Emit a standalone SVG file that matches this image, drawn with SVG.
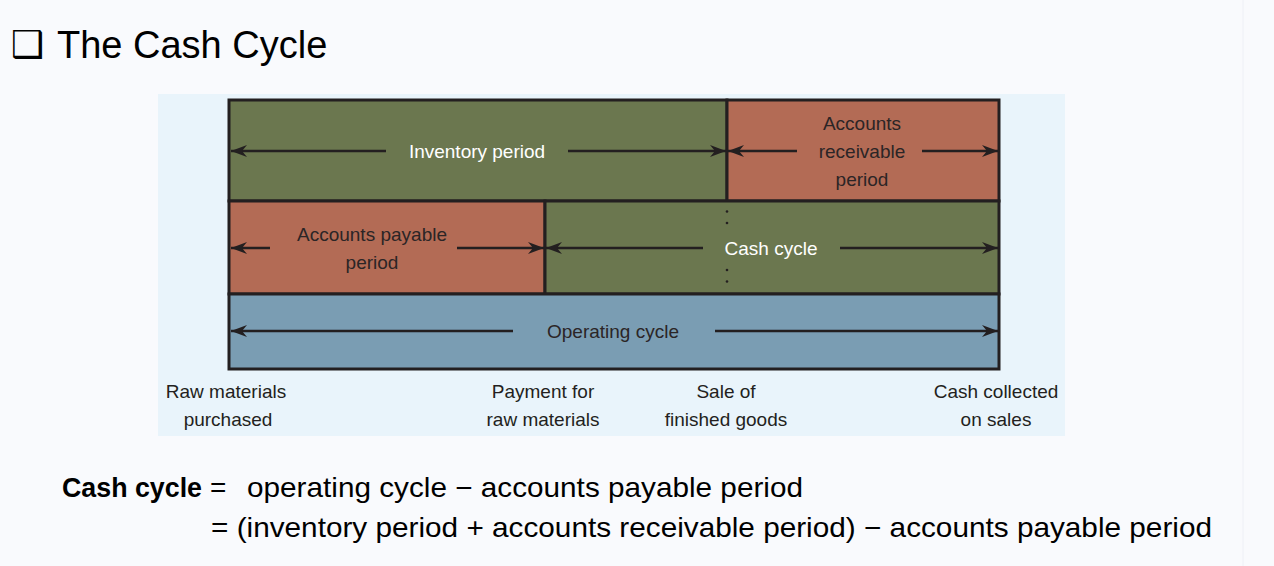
<svg xmlns="http://www.w3.org/2000/svg" width="1274" height="566" viewBox="0 0 1274 566">
<style>
.box{stroke:#231f20;stroke-width:3}
.g{fill:#6b774f}
.r{fill:#b36b55}
.b{fill:#7a9db3}
.arr{stroke:#231f20;stroke-width:2.5;fill:none;marker-end:url(#ah)}
.lbl{font-family:"Liberation Sans",Arial,sans-serif;font-size:19px;text-anchor:middle}
.w{fill:#ffffff}
.d{fill:#2b2526}
.bot{font-family:"Liberation Sans",Arial,sans-serif;font-size:19px;text-anchor:middle;fill:#231f20}
.f{font-family:"Liberation Sans",Arial,sans-serif;font-size:28px;fill:#000}
</style>
<defs>
<marker id="ah" markerUnits="userSpaceOnUse" markerWidth="18" markerHeight="14" viewBox="0 -7 18 14" refX="16" refY="0" orient="auto">
<path d="M0,-6 L16,0 L0,6 L5,0 Z" fill="#231f20"/>
</marker>
</defs>
<rect width="1274" height="566" fill="#f9fafd"/>
<line x1="1243" y1="0" x2="1243" y2="566" stroke="#eef0f6" stroke-width="1"/>
<g id="title">
<text x="11" y="57" font-family="DejaVu Sans,sans-serif" font-size="37" font-weight="bold" fill="#000">❑</text>
<text x="57" y="58" font-family="Liberation Sans,Arial,sans-serif" font-size="38" fill="#000">The Cash Cycle</text>
</g>
<rect id="panel" x="158" y="94" width="907" height="342" fill="#e9f4fb"/>
<g id="inventory">
<rect class="box g" x="229" y="100" width="498" height="101"/>
<text class="lbl w" x="477" y="157.5">Inventory period</text>
</g>
<g id="receivable">
<rect class="box r" x="727" y="100" width="272" height="101"/>
<text class="lbl d" x="862" y="130">Accounts</text>
<text class="lbl d" x="862" y="158">receivable</text>
<text class="lbl d" x="862" y="186">period</text>
</g>
<g id="payable">
<rect class="box r" x="229" y="201" width="316" height="93"/>
<text class="lbl d" x="372" y="241">Accounts payable</text>
<text class="lbl d" x="372" y="269">period</text>
</g>
<g id="cashcycle">
<rect class="box g" x="545" y="201" width="454" height="93"/>
<text class="lbl w" x="771" y="254.5">Cash cycle</text>
<g fill="#231f20">
<circle cx="727" cy="211.5" r="1.3"/>
<circle cx="727" cy="223" r="1.3"/>
<circle cx="727" cy="270" r="1.3"/>
<circle cx="727" cy="281.5" r="1.3"/>
</g>
</g>
<g id="operating">
<rect class="box b" x="229" y="294" width="770" height="75"/>
<text class="lbl d" x="613" y="337.5">Operating cycle</text>
</g>
<g id="connectors">
<line class="arr" x1="386" y1="151" x2="231" y2="151"/>
<line class="arr" x1="568" y1="151" x2="726" y2="151"/>
<line class="arr" x1="797" y1="151" x2="728" y2="151"/>
<line class="arr" x1="922" y1="151" x2="998" y2="151"/>
<line class="arr" x1="270" y1="248" x2="231" y2="248"/>
<line class="arr" x1="457" y1="248" x2="544" y2="248"/>
<line class="arr" x1="703" y1="248" x2="546" y2="248"/>
<line class="arr" x1="840" y1="248" x2="998" y2="248"/>
<line class="arr" x1="513" y1="331" x2="231" y2="331"/>
<line class="arr" x1="715" y1="331" x2="998" y2="331"/>
</g>
<g id="timeline">
<text class="bot" x="226" y="398">Raw materials</text>
<text class="bot" x="228" y="426">purchased</text>
<text class="bot" x="543" y="398">Payment for</text>
<text class="bot" x="543" y="426">raw materials</text>
<text class="bot" x="726" y="398">Sale of</text>
<text class="bot" x="726" y="426">finished goods</text>
<text class="bot" x="996" y="398">Cash collected</text>
<text class="bot" x="996" y="426">on sales</text>
</g>
<g id="formula">
<text class="f" x="62" y="497" font-weight="bold" font-size="26" textLength="140" lengthAdjust="spacingAndGlyphs">Cash cycle</text>
<text class="f" x="210" y="497">=</text>
<text class="f" x="247" y="497" textLength="556" lengthAdjust="spacingAndGlyphs">operating cycle − accounts payable period</text>
<text class="f" x="211" y="537" textLength="1001" lengthAdjust="spacingAndGlyphs">= (inventory period + accounts receivable period) − accounts payable period</text>
</g>
</svg>
